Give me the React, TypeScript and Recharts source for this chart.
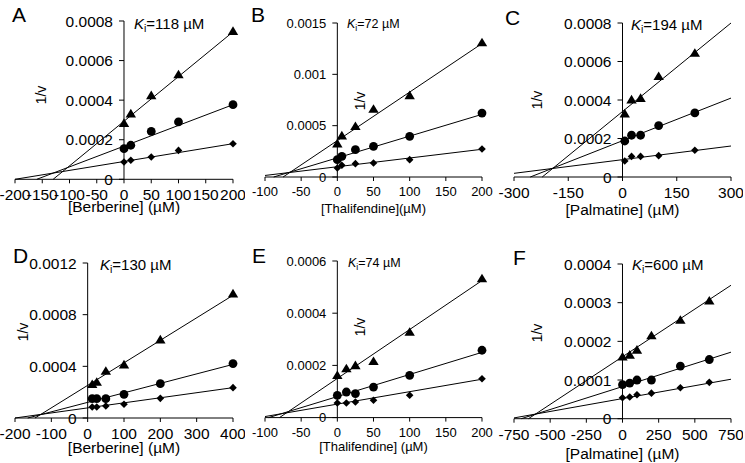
import React from "react";
import {
  ComposedChart,
  Scatter,
  Line,
  XAxis,
  YAxis,
  ReferenceLine,
  ReferenceDot,
} from "recharts";

// Dixon plots, 6 panels. Series order everywhere: triangles, circles, diamonds.
// Fit lines are given as [start, end] pairs.

const A_X = [0, 12.5, 50, 100, 200];
const A_TRI = [0.000284, 0.000332, 0.000424, 0.00053, 0.000749];
const A_CIR = [0.000155, 0.000172, 0.000242, 0.00029, 0.000377];
const A_DIA = [0.0000875, 0.000096, 0.000113, 0.000146, 0.00018];
const A_FIT_X = [[-130, 200], [-160, 200], [-200, 200]];
const A_FIT_Y = [[0, 0.000745], [0, 0.000377], [0, 0.00018]];

const B_X = [0, 6.25, 25, 50, 100, 200];
const B_TRI = [0.000325, 0.000403, 0.000494, 0.000662, 0.000795, 0.00131];
const B_CIR = [0.000169, 0.000201, 0.000266, 0.000299, 0.000396, 0.000623];
const B_DIA = [0.0000877, 0.000114, 0.00013, 0.000136, 0.000169, 0.000273];
const B_FIT_X = [[-75, 200], [-88, 200], [-100, 200]];
const B_FIT_Y = [[0, 0.0013], [0, 0.00061], [0.000015, 0.00027]];

const C_X = [6.25, 25, 50, 100, 200];
const C_TRI = [0.000329, 0.000402, 0.00041, 0.000523, 0.000644];
const C_CIR = [0.000187, 0.000217, 0.000217, 0.000267, 0.000333];
const C_DIA = [0.0000831, 0.000107, 0.000107, 0.000111, 0.000139];
const C_FIT_X = [[-222, 300], [-255, 300], [-300, 300]];
const C_FIT_Y = [[0, 0.0008], [0, 0.00041], [0.000019, 0.000161]];

const D_X = [12.5, 25, 50, 100, 200, 400];
const D_TRI = [0.000261, 0.000279, 0.000364, 0.000413, 0.000607, 0.000963];
const D_CIR = [0.00015, 0.00015, 0.00015, 0.000183, 0.000266, 0.000421];
const D_DIA = [0.0000851, 0.0000851, 0.000093, 0.000106, 0.000152, 0.000235];
const D_FIT_X = [[-145, 400], [-165, 400], [-200, 400]];
const D_FIT_Y = [[0, 0.00095], [0, 0.000415], [0, 0.000235]];

const E_X = [0, 12.5, 25, 50, 100, 200];
const E_TRI = [0.000162, 0.000188, 0.0002, 0.000216, 0.000328, 0.000533];
const E_CIR = [0.0000854, 0.000098, 0.000092, 0.000117, 0.000162, 0.000258];
const E_DIA = [0.0000561, 0.0000561, 0.00006, 0.0000664, 0.0000854, 0.000149];
const E_FIT_X = [[-80, 200], [-95, 200], [-100, 200]];
const E_FIT_Y = [[0, 0.000525], [0, 0.00025], [0.000004, 0.000147]];

const F_X = [0, 50, 100, 200, 400, 600];
const F_TRI = [0.00016, 0.000165, 0.000178, 0.000215, 0.000255, 0.000305];
const F_CIR = [0.000088, 0.000092, 0.0001, 0.0001, 0.000136, 0.000153];
const F_DIA = [0.000054, 0.000056, 0.000062, 0.000066, 0.00008, 0.000094];
const F_FIT_X = [[-650, 750], [-700, 750], [-750, 750]];
const F_FIT_Y = [[0, 0.000345], [0, 0.000172], [0.000002, 0.000102]];

const X_TICKS_A = [-200, -150, -100, -50, 0, 50, 100, 150, 200];
const X_TICKS_B = [-100, -50, 0, 50, 100, 150, 200];
const X_TICKS_C = [-300, -150, 0, 150, 300];
const X_TICKS_D = [-200, -100, 0, 100, 200, 300, 400];
const X_TICKS_F = [-750, -500, -250, 0, 250, 500, 750];

const Y_TICKS_A = [0, 0.0002, 0.0004, 0.0006, 0.0008];
const Y_LABELS_A = ["0", "0.0002", "0.0004", "0.0006", "0.0008"];
const Y_TICKS_B = [0, 0.0005, 0.001, 0.0015];
const Y_LABELS_B = ["0", "0.0005", "0.001", "0.0015"];
const Y_TICKS_D = [0, 0.0004, 0.0008, 0.0012];
const Y_LABELS_D = ["0", "0.0004", "0.0008", "0.0012"];
const Y_TICKS_E = [0, 0.0002, 0.0004, 0.0006];
const Y_LABELS_E = ["0", "0.0002", "0.0004", "0.0006"];
const Y_TICKS_F = [0, 0.0001, 0.0002, 0.0003, 0.0004];
const Y_LABELS_F = ["0", "0.0001", "0.0002", "0.0003", "0.0004"];

const FONT = '"Liberation Sans", Arial, sans-serif';
const ML = 22;
const MT = 12;
const MR = 12;
const MB = 8;

const pts = (xs: number[], ys: number[]) => xs.map((x, i) => ({ x, y: ys[i] }));

const Tri = (p: any) => (
  <polygon
    points={`${p.cx},${p.cy - 4.8} ${p.cx + 5.2},${p.cy + 3.8} ${p.cx - 5.2},${p.cy + 3.8}`}
    fill="#000"
  />
);
const Dot = (p: any) => <circle cx={p.cx} cy={p.cy} r={4.4} fill="#000" />;
const Dia = (p: any) => (
  <polygon
    points={`${p.cx},${p.cy - 3.8} ${p.cx + 3.8},${p.cy} ${p.cx},${p.cy + 3.8} ${p.cx - 3.8},${p.cy}`}
    fill="#000"
  />
);

interface PanelProps {
  letter: string;
  ki: string;
  title: string;
  xs: number[];
  series: number[][];
  fitX: number[][];
  fitY: number[][];
  xTicks: number[];
  yTicks: number[];
  yLabels: string[];
  // plot box in page pixels
  box: { l: number; t: number; w: number; h: number };
  axisH: number;
  fs: number;
  letterPos: [number, number];
  kiPos: [number, number];
  vPos: [number, number];
}

function Panel(p: PanelProps) {
  const { box, fs } = p;
  const shapes = [Tri, Dot, Dia];
  const yTickShape = (label: string) => (props: any) => (
    <g>
      <line x1={props.cx - 5} y1={props.cy} x2={props.cx} y2={props.cy} stroke="#000" />
      <text x={props.cx - 11} y={props.cy} dy="0.36em" textAnchor="end" fontSize={fs} fill="#000">
        {label}
      </text>
    </g>
  );
  return (
    <>
      <div style={{ position: "absolute", left: box.l - ML, top: box.t - MT }}>
        <ComposedChart
          width={box.w + ML + MR}
          height={MT + box.h + p.axisH + MB}
          margin={{ top: MT, right: MR, left: ML, bottom: MB }}
        >
          <XAxis
            type="number"
            dataKey="x"
            domain={[p.xTicks[0], p.xTicks[p.xTicks.length - 1]]}
            ticks={p.xTicks}
            interval={0}
            tickSize={4}
            tickMargin={6}
            height={p.axisH}
            axisLine={{ stroke: "#000" }}
            tickLine={{ stroke: "#000" }}
            tick={{ fill: "#000", fontSize: fs }}
            label={{ value: p.title, position: "insideBottom", offset: 0, fill: "#000", fontSize: fs }}
          />
          <YAxis hide type="number" dataKey="y" domain={[0, p.yTicks[p.yTicks.length - 1]]} />
          <ReferenceLine x={0} stroke="#000" />
          {p.yTicks.map((v, i) => (
            <ReferenceDot key={v} x={0} y={v} r={1} ifOverflow="visible" shape={yTickShape(p.yLabels[i])} />
          ))}
          {p.fitX.map((fx, i) => (
            <Line
              key={"fit" + i}
              data={pts(fx, p.fitY[i])}
              dataKey="y"
              type="linear"
              stroke="#000"
              strokeWidth={1}
              dot={false}
              activeDot={false}
              isAnimationActive={false}
            />
          ))}
          {p.series.map((ys, i) => (
            <Scatter key={"s" + i} data={pts(p.xs, ys)} dataKey="y" shape={shapes[i]} isAnimationActive={false} />
          ))}
        </ComposedChart>
      </div>
      <div
        style={{
          position: "absolute",
          left: p.letterPos[0],
          top: p.letterPos[1] - 10.5,
          fontSize: 21,
          lineHeight: "21px",
        }}
      >
        {p.letter}
      </div>
      <div
        style={{
          position: "absolute",
          left: p.kiPos[0],
          top: p.kiPos[1] - fs / 2,
          fontSize: fs - 0.5,
          lineHeight: `${fs}px`,
          whiteSpace: "nowrap",
        }}
      >
        <i>K</i>
        <span style={{ fontSize: "0.7em", verticalAlign: "-0.3em" }}>i</span>
        {p.ki}
      </div>
      <div
        style={{
          position: "absolute",
          left: p.vPos[0],
          top: p.vPos[1],
          fontSize: 14,
          lineHeight: "14px",
          whiteSpace: "nowrap",
          transform: "translate(-50%, -50%) rotate(-90deg)",
        }}
      >
        1/v
      </div>
    </>
  );
}

export default function App() {
  return (
    <div
      style={{
        position: "absolute",
        left: 0,
        top: 0,
        width: 745,
        height: 463,
        background: "#fff",
        fontFamily: FONT,
        color: "#000",
        overflow: "hidden",
      }}
    >
      <Panel
        letter="A"
        ki="=118 µM"
        title="[Berberine] (µM)"
        xs={A_X}
        series={[A_TRI, A_CIR, A_DIA]}
        fitX={A_FIT_X}
        fitY={A_FIT_Y}
        xTicks={X_TICKS_A}
        yTicks={Y_TICKS_A}
        yLabels={Y_LABELS_A}
        box={{ l: 15, t: 20.7, w: 218, h: 158.3 }}
        axisH={33}
        fs={15.5}
        letterPos={[12, 14]}
        kiPos={[134, 24]}
        vPos={[41, 95]}
      />
      <Panel
        letter="B"
        ki="=72 µM"
        title="[Thalifendine](µM)"
        xs={B_X}
        series={[B_TRI, B_CIR, B_DIA]}
        fitX={B_FIT_X}
        fitY={B_FIT_Y}
        xTicks={X_TICKS_B}
        yTicks={Y_TICKS_B}
        yLabels={Y_LABELS_B}
        box={{ l: 265, t: 23.3, w: 217, h: 154 }}
        axisH={36}
        fs={13}
        letterPos={[251, 14]}
        kiPos={[347, 24.5]}
        vPos={[360, 101]}
      />
      <Panel
        letter="C"
        ki="=194 µM"
        title="[Palmatine] (µM)"
        xs={C_X}
        series={[C_TRI, C_CIR, C_DIA]}
        fitX={C_FIT_X}
        fitY={C_FIT_Y}
        xTicks={X_TICKS_C}
        yTicks={Y_TICKS_A}
        yLabels={Y_LABELS_A}
        box={{ l: 514, t: 22.7, w: 217, h: 154 }}
        axisH={38}
        fs={15.5}
        letterPos={[505, 17.5]}
        kiPos={[631, 25]}
        vPos={[537, 100]}
      />
      <Panel
        letter="D"
        ki="=130 µM"
        title="[Berberine] (µM)"
        xs={D_X}
        series={[D_TRI, D_CIR, D_DIA]}
        fitX={D_FIT_X}
        fitY={D_FIT_Y}
        xTicks={X_TICKS_D}
        yTicks={Y_TICKS_D}
        yLabels={Y_LABELS_D}
        box={{ l: 15, t: 262.7, w: 218, h: 155 }}
        axisH={34.5}
        fs={15.5}
        letterPos={[13, 255]}
        kiPos={[100, 265]}
        vPos={[23, 332]}
      />
      <Panel
        letter="E"
        ki="=74 µM"
        title="[Thalifendine] (µM)"
        xs={E_X}
        series={[E_TRI, E_CIR, E_DIA]}
        fitX={E_FIT_X}
        fitY={E_FIT_Y}
        xTicks={X_TICKS_B}
        yTicks={Y_TICKS_E}
        yLabels={Y_LABELS_E}
        box={{ l: 265, t: 260.7, w: 217, h: 156.6 }}
        axisH={33.5}
        fs={13}
        letterPos={[252, 255]}
        kiPos={[348, 263.5]}
        vPos={[360, 327]}
      />
      <Panel
        letter="F"
        ki="=600 µM"
        title="[Palmatine] (µM)"
        xs={F_X}
        series={[F_TRI, F_CIR, F_DIA]}
        fitX={F_FIT_X}
        fitY={F_FIT_Y}
        xTicks={X_TICKS_F}
        yTicks={Y_TICKS_F}
        yLabels={Y_LABELS_F}
        box={{ l: 514, t: 264.3, w: 217, h: 154.7 }}
        axisH={40}
        fs={15.5}
        letterPos={[513, 257]}
        kiPos={[632, 265]}
        vPos={[537, 333]}
      />
    </div>
  );
}
